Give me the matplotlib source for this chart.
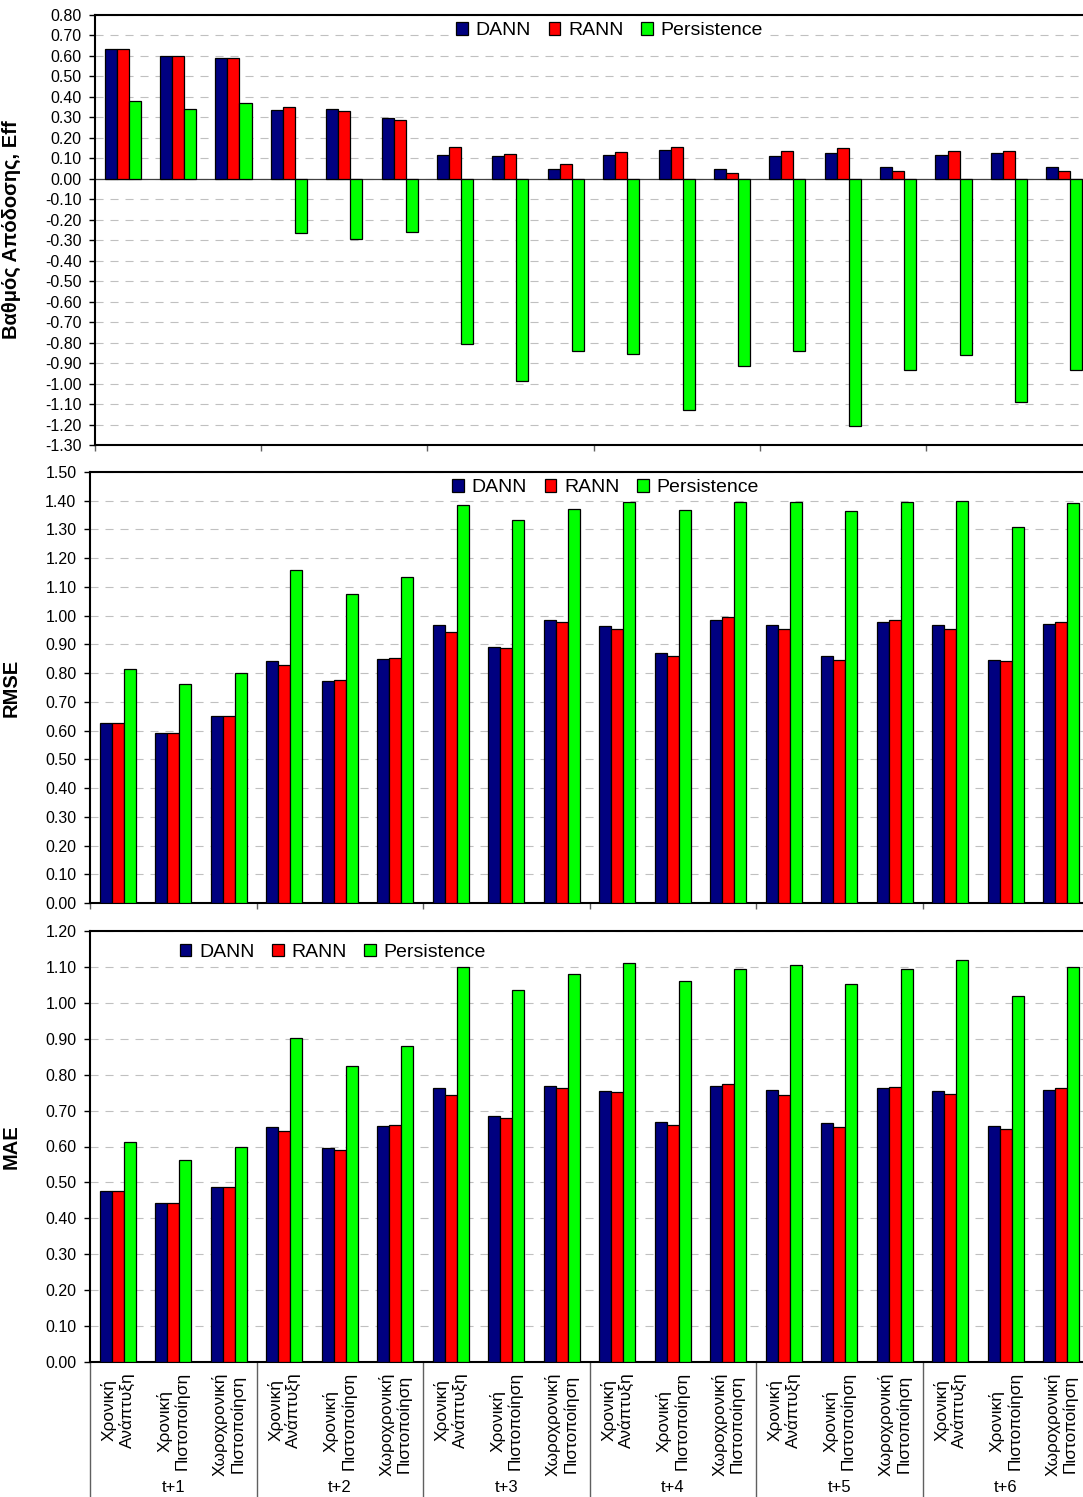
import numpy as np
import matplotlib
matplotlib.use("Agg")
import matplotlib.pyplot as plt
from matplotlib import font_manager
from matplotlib.transforms import blended_transform_factory

plt.rcParams['axes.unicode_minus'] = False
plt.rcParams['lines.scale_dashes'] = False

# ---------------- data ----------------
horizons = ["t+1", "t+2", "t+3", "t+4", "t+5", "t+6"]
methods = ["Χρονική\nΑνάπτυξη", "Χρονική\nΠιστοποίηση", "Χωροχρονική\nΠιστοποίηση"]
series_names = ["DANN", "RANN", "Persistence"]

eff_dann = [0.633, 0.601, 0.589, 0.335, 0.341, 0.297, 0.118, 0.111, 0.046,
            0.118, 0.142, 0.046, 0.111, 0.124, 0.060, 0.118, 0.124, 0.060]
eff_rann = [0.633, 0.601, 0.589, 0.353, 0.333, 0.289, 0.155, 0.122, 0.072,
            0.129, 0.155, 0.026, 0.136, 0.149, 0.039, 0.136, 0.136, 0.039]
eff_pers = [0.379, 0.341, 0.371, -0.266, -0.292, -0.260, -0.808, -0.988, -0.841,
            -0.854, -1.130, -0.914, -0.841, -1.207, -0.932, -0.860, -1.091, -0.932]

rmse_dann = [0.626, 0.590, 0.650, 0.841, 0.774, 0.850, 0.969, 0.891, 0.986,
             0.964, 0.869, 0.986, 0.968, 0.858, 0.977, 0.968, 0.846, 0.972]
rmse_rann = [0.626, 0.590, 0.650, 0.827, 0.777, 0.854, 0.944, 0.886, 0.977,
             0.954, 0.858, 0.995, 0.954, 0.846, 0.986, 0.954, 0.841, 0.977]
rmse_pers = [0.813, 0.763, 0.799, 1.159, 1.077, 1.136, 1.386, 1.332, 1.372,
             1.396, 1.368, 1.396, 1.396, 1.363, 1.396, 1.400, 1.309, 1.391]

mae_dann = [0.475, 0.444, 0.486, 0.653, 0.596, 0.657, 0.762, 0.686, 0.769,
            0.755, 0.668, 0.769, 0.758, 0.665, 0.762, 0.755, 0.657, 0.758]
mae_rann = [0.475, 0.444, 0.486, 0.642, 0.591, 0.660, 0.744, 0.678, 0.762,
            0.751, 0.660, 0.773, 0.743, 0.653, 0.766, 0.747, 0.650, 0.762]
mae_pers = [0.613, 0.563, 0.599, 0.903, 0.824, 0.881, 1.099, 1.037, 1.081,
            1.110, 1.060, 1.095, 1.106, 1.052, 1.095, 1.120, 1.019, 1.099]

colors = ["#000080", "#FF0000", "#00FF00"]

# ---------------- fonts ----------------
names = {f.name for f in font_manager.fontManager.ttflist}
if 'Liberation Sans Narrow' in names:
    narrow_family = 'Liberation Sans Narrow'
    cat_size = 14.5
    grp_size = 13.5
else:
    narrow_family = 'Liberation Sans'
    cat_size = 12.4
    grp_size = 12.0

W, H = 1083, 1497
fig = plt.figure(figsize=(W / 100, H / 100), dpi=100)

def frac_rect(left_px, right_px, top_px, bottom_px):
    return [left_px / W, 1 - bottom_px / H, (right_px - left_px) / W, (bottom_px - top_px) / H]

ax_eff = fig.add_axes(frac_rect(95, 1092, 15, 445))
ax_rmse = fig.add_axes(frac_rect(90, 1089, 472, 903))
ax_mae = fig.add_axes(frac_rect(90, 1089, 931, 1362))

n = len(horizons) * len(methods)
x = np.arange(n)
bw = 0.217

panels = [
    (ax_eff, [eff_dann, eff_rann, eff_pers], (-1.30, 0.80), "Βαθμός Απόδοσης, Eff", (0.516, 0.963)),
    (ax_rmse, [rmse_dann, rmse_rann, rmse_pers], (0.0, 1.50), "RMSE", (0.516, 0.963)),
    (ax_mae, [mae_dann, mae_rann, mae_pers], (0.0, 1.20), "MAE", (0.243, 0.951)),
]

for ax, vals, ylim, ylabel, legpos in panels:
    ax.set_axisbelow(True)
    for k, (v, c, nm) in enumerate(zip(vals, colors, series_names)):
        ax.bar(x + (k - 1) * bw, v, width=bw, color=c, edgecolor='#000000',
               linewidth=0.9, label=nm, zorder=3)
    ax.set_xlim(-0.5, n - 0.5)
    ax.set_ylim(*ylim)
    ticks = np.round(np.arange(ylim[0], ylim[1] + 0.001, 0.10), 2)
    ax.set_yticks(ticks)
    ax.set_yticklabels([f"{t:.2f}" for t in ticks], fontsize=11.5, family='Liberation Sans')
    ax.yaxis.grid(True, color='#C0C0C0', linestyle=(0, (5.8, 5.0)), linewidth=0.8)
    ax.set_xticks(np.arange(-0.5, n, 3))
    ax.set_xticklabels([])
    ax.tick_params(axis='y', direction='out', length=4.3, width=1.0, pad=5.5, colors='#000000')
    ax.tick_params(axis='x', direction='out', length=4.3, width=1.0, color='#606060')
    for side in ['top', 'left', 'bottom']:
        ax.spines[side].set_linewidth(1.5)
        ax.spines[side].set_color('#000000')
    ax.spines['right'].set_visible(False)
    ax.set_ylabel(ylabel, fontsize=14.5, fontweight='bold', family='Liberation Sans')
    pos = ax.get_position()
    ax.yaxis.set_label_coords((21 / W - pos.x0) / pos.width, 0.5)
    leg = ax.legend(loc='center', bbox_to_anchor=legpos, ncol=3, frameon=True,
                    handlelength=0.6, handleheight=0.6,
                    handletextpad=0.4, columnspacing=0.9, borderpad=0.15,
                    borderaxespad=0.0, prop={'family': 'Liberation Sans', 'size': 14})
    leg.get_frame().set_facecolor('white')
    leg.get_frame().set_edgecolor('none')
    leg.get_frame().set_alpha(1.0)
    leg.get_frame().set_boxstyle('square', pad=0.0)

ax_eff.axhline(0, color='#404040', linewidth=0.9, zorder=2)

# multi-level category labels on bottom panel
ax_mae.tick_params(axis='x', length=0)
trans = blended_transform_factory(ax_mae.transData, ax_mae.transAxes)
for b in np.arange(-0.5, n, 3):
    ax_mae.plot([b, b], [0, -0.32], transform=trans, color='#606060', linewidth=1.0,
                clip_on=False, zorder=1)
for i in range(n):
    ax_mae.annotate(methods[i % 3], xy=(x[i], 0), xycoords=trans,
                    xytext=(0, -7.2), textcoords='offset points',
                    rotation=90, ha='center', va='top', multialignment='center',
                    fontsize=cat_size, family=narrow_family, linespacing=1.15,
                    annotation_clip=False)
for g, h in enumerate(horizons):
    ax_mae.annotate(h, xy=(3 * g + 1, 0), xycoords=trans,
                    xytext=(0, -90.5), textcoords='offset points',
                    ha='center', va='center', fontsize=grp_size, family=narrow_family,
                    annotation_clip=False)

fig.savefig("out.png", dpi=100)
